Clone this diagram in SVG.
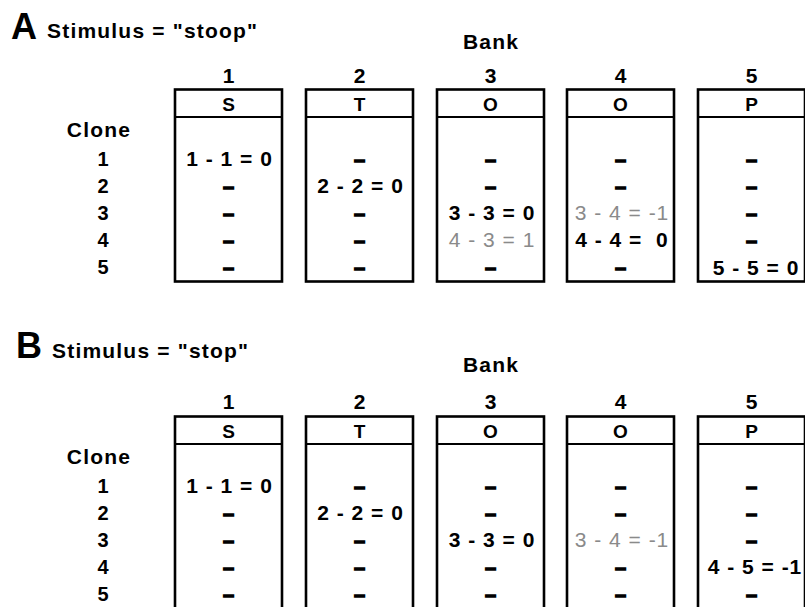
<svg xmlns="http://www.w3.org/2000/svg" width="805" height="607" viewBox="0 0 805 607">
  <style>
    text { font-family: "Liberation Sans", Arial, sans-serif; }
    .title { font-size: 36px; font-weight: bold; }
    .stim { font-size: 21px; font-weight: bold; letter-spacing: 1.2px; }
    .lbl { font-size: 21px; font-weight: bold; letter-spacing: 1.2px; text-anchor: middle; }
    .num { font-size: 21px; font-weight: bold; text-anchor: middle; }
    .let { font-size: 19px; font-weight: bold; text-anchor: middle; }
    .row { font-size: 20px; font-weight: bold; text-anchor: middle; }
    .cell { font-size: 21px; font-weight: bold; letter-spacing: 1px; text-anchor: middle; }
    .d { font-size: 20px; font-weight: bold; text-anchor: middle; stroke: #000; stroke-width: 1.4px; }
    .dim { font-weight: normal; fill: #8a8a8a; }
    .box { fill: #fff; stroke: #000; stroke-width: 2.6; }
    .sep { stroke: #000; stroke-width: 1.8; }
  </style>
  <defs>
    <!-- one bank column: outline + header divider -->
    <g id="bankBox">
      <rect class="box" x="0" y="0" width="107" height="192"/>
      <line class="sep" x1="0" y1="27.5" x2="107" y2="27.5"/>
    </g>
  </defs>
  <rect width="805" height="607" fill="#fff"/>

  <!-- Panel A -->
  <g id="panelA">
    <text class="title" x="11" y="39">A</text>
    <text class="stim" x="47" y="38">Stimulus = "stoop"</text>
    <text class="lbl" x="491" y="49">Bank</text>
    <text class="lbl" x="99" y="137">Clone</text>
    <g id="cloneLabelsA">
      <text class="row" x="103" y="166">1</text>
      <text class="row" x="103" y="193">2</text>
      <text class="row" x="103" y="220">3</text>
      <text class="row" x="103" y="247">4</text>
      <text class="row" x="103" y="274">5</text>
    </g>
    <g id="A-bank1">
      <use href="#bankBox" x="175" y="89.5"/>
      <text class="num" x="228.5" y="83">1</text>
      <text class="let" x="228.5" y="111">S</text>
      <text class="cell" x="229.5" y="166">1 - 1 = 0</text>
      <text class="d" x="228.5" y="193">–</text>
      <text class="d" x="228.5" y="220">–</text>
      <text class="d" x="228.5" y="247">–</text>
      <text class="d" x="228.5" y="274">–</text>
    </g>
    <g id="A-bank2">
      <use href="#bankBox" x="306" y="89.5"/>
      <text class="num" x="359.5" y="83">2</text>
      <text class="let" x="359.5" y="111">T</text>
      <text class="d" x="359.5" y="166">–</text>
      <text class="cell" x="360.5" y="193">2 - 2 = 0</text>
      <text class="d" x="359.5" y="220">–</text>
      <text class="d" x="359.5" y="247">–</text>
      <text class="d" x="359.5" y="274">–</text>
    </g>
    <g id="A-bank3">
      <use href="#bankBox" x="437" y="89.5"/>
      <text class="num" x="490.5" y="83">3</text>
      <text class="let" x="490.5" y="111">O</text>
      <text class="d" x="490.5" y="166">–</text>
      <text class="d" x="490.5" y="193">–</text>
      <text class="cell" x="492" y="220">3 - 3 = 0</text>
      <text class="cell dim" x="492" y="247">4 - 3 = 1</text>
      <text class="d" x="490.5" y="274">–</text>
    </g>
    <g id="A-bank4">
      <use href="#bankBox" x="567" y="89.5"/>
      <text class="num" x="620.5" y="83">4</text>
      <text class="let" x="620.5" y="111">O</text>
      <text class="d" x="620.5" y="166">–</text>
      <text class="d" x="620.5" y="193">–</text>
      <text class="cell dim" x="622" y="220">3 - 4 = -1</text>
      <text class="cell" x="622" y="247" xml:space="preserve">4 - 4 =  0</text>
      <text class="d" x="620.5" y="274">–</text>
    </g>
    <g id="A-bank5">
      <use href="#bankBox" x="698" y="89.5"/>
      <text class="num" x="751.5" y="83">5</text>
      <text class="let" x="751.5" y="111">P</text>
      <text class="d" x="751.5" y="166">–</text>
      <text class="d" x="751.5" y="193">–</text>
      <text class="d" x="751.5" y="220">–</text>
      <text class="d" x="751.5" y="247">–</text>
      <text class="cell" x="756" y="275">5 - 5 = 0</text>
    </g>
  </g>

  <!-- Panel B -->
  <g id="panelB">
    <text class="title" x="16" y="358">B</text>
    <text class="stim" x="52" y="358">Stimulus = "stop"</text>
    <text class="lbl" x="491" y="372">Bank</text>
    <g transform="translate(0,327)">
      <text class="lbl" x="99" y="137">Clone</text>
      <g id="cloneLabelsB">
        <text class="row" x="103" y="166">1</text>
        <text class="row" x="103" y="193">2</text>
        <text class="row" x="103" y="220">3</text>
        <text class="row" x="103" y="247">4</text>
        <text class="row" x="103" y="274">5</text>
      </g>
      <g id="B-bank1">
        <use href="#bankBox" x="175" y="89.5"/>
        <text class="num" x="228.5" y="82">1</text>
        <text class="let" x="228.5" y="111">S</text>
        <text class="cell" x="229.5" y="166">1 - 1 = 0</text>
        <text class="d" x="228.5" y="193">–</text>
        <text class="d" x="228.5" y="220">–</text>
        <text class="d" x="228.5" y="247">–</text>
        <text class="d" x="228.5" y="274">–</text>
      </g>
      <g id="B-bank2">
        <use href="#bankBox" x="306" y="89.5"/>
        <text class="num" x="359.5" y="82">2</text>
        <text class="let" x="359.5" y="111">T</text>
        <text class="d" x="359.5" y="166">–</text>
        <text class="cell" x="360.5" y="193">2 - 2 = 0</text>
        <text class="d" x="359.5" y="220">–</text>
        <text class="d" x="359.5" y="247">–</text>
        <text class="d" x="359.5" y="274">–</text>
      </g>
      <g id="B-bank3">
        <use href="#bankBox" x="437" y="89.5"/>
        <text class="num" x="490.5" y="82">3</text>
        <text class="let" x="490.5" y="111">O</text>
        <text class="d" x="490.5" y="166">–</text>
        <text class="d" x="490.5" y="193">–</text>
        <text class="cell" x="492" y="220">3 - 3 = 0</text>
        <text class="d" x="490.5" y="247">–</text>
        <text class="d" x="490.5" y="274">–</text>
      </g>
      <g id="B-bank4">
        <use href="#bankBox" x="567" y="89.5"/>
        <text class="num" x="620.5" y="82">4</text>
        <text class="let" x="620.5" y="111">O</text>
        <text class="d" x="620.5" y="166">–</text>
        <text class="d" x="620.5" y="193">–</text>
        <text class="cell dim" x="622" y="220">3 - 4 = -1</text>
        <text class="d" x="620.5" y="247">–</text>
        <text class="d" x="620.5" y="274">–</text>
      </g>
      <g id="B-bank5">
        <use href="#bankBox" x="698" y="89.5"/>
        <text class="num" x="751.5" y="82">5</text>
        <text class="let" x="751.5" y="111">P</text>
        <text class="d" x="751.5" y="166">–</text>
        <text class="d" x="751.5" y="193">–</text>
        <text class="d" x="751.5" y="220">–</text>
        <text class="cell" x="755" y="247">4 - 5 = -1</text>
        <text class="d" x="751.5" y="274">–</text>
      </g>
    </g>
  </g>
</svg>
